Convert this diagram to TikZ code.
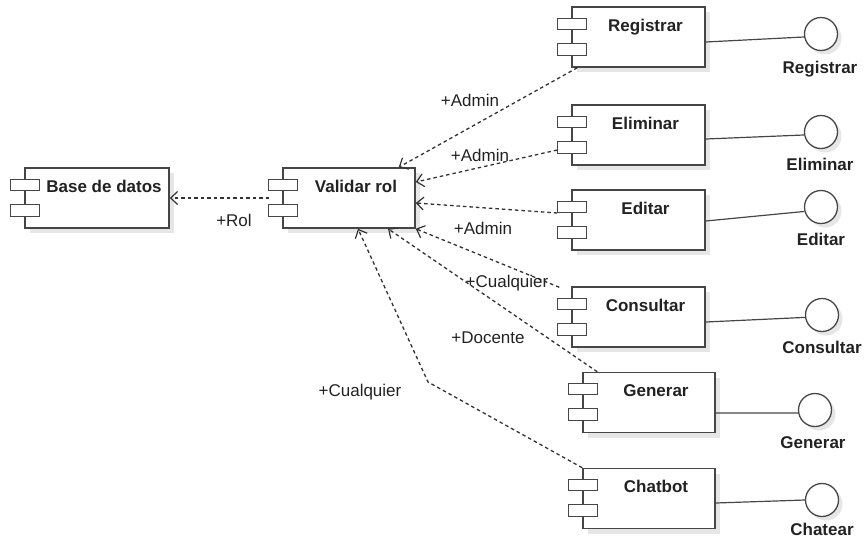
\documentclass[tikz,border=0pt]{standalone}
\usepackage{fontspec}
\setmainfont{Liberation Sans}
\usetikzlibrary{arrows.meta,shadows}
\definecolor{ink}{RGB}{34,34,34}
\definecolor{edge}{RGB}{70,70,70}
\definecolor{dash}{RGB}{50,50,50}
\definecolor{shade}{RGB}{230,230,230}

% UML component: name, centre x, centre y, width, caption
\newcommand\umlcomponent[5]{%
  \node[compbox, minimum width=#4pt] (#1) at (#2,#3) {};
  \draw[comppart] ([xshift=-14pt,yshift=-12pt]#1.north west) rectangle ++(29,11);
  \draw[comppart] ([xshift=-14pt,yshift=-37pt]#1.north west) rectangle ++(29,12);
  \node[comptext] (#1-t) at ([xshift=7pt,yshift=-25pt]#1.north) {#5};
}
% provided interface: name, centre, label x, label baseline y, caption
\newcommand\umliface[5]{%
  \node[iface] (#1) at (#2) {};
  \node[ifacetext] (#1-t) at (#3,#4) {#5};
}

\begin{document}
\begin{tikzpicture}[x=1pt,y=-1pt,
  compbox/.style={draw=edge, line width=1.5pt, fill=white, rectangle,
    minimum height=60pt, inner sep=0pt,
    drop shadow={shadow xshift=5pt, shadow yshift=-5pt, fill=shade, opacity=1}},
  comppart/.style={draw=edge, line width=1.4pt, fill=white},
  comptext/.style={anchor=base, text=ink, font=\fontsize{17}{20}\selectfont\bfseries, inner sep=0pt},
  iface/.style={draw=edge, line width=1.3pt, fill=white, circle, minimum size=33pt, inner sep=0pt,
    drop shadow={shadow xshift=4pt, shadow yshift=-4pt, fill=shade, opacity=1}},
  ifacetext/.style={anchor=base, text=ink, font=\fontsize{17}{20}\selectfont\bfseries, inner sep=0pt},
  wire/.style={draw=edge, line width=1.2pt},
  dep/.style={draw=dash, line width=1.3pt, dash pattern=on 3.5pt off 3pt,
    -{Straight Barb[length=7pt,width=13pt,line width=1.2pt]}},
  role/.style={text=ink, font=\fontsize{17}{20}\selectfont, inner sep=0pt}
]
\useasboundingbox (0,0) rectangle (865,539);

% components
\umlcomponent{bdd}{97}{198}{144}{Base de datos}
\umlcomponent{val}{349}{198}{132}{Validar rol}
\umlcomponent{reg}{638.5}{37}{133}{Registrar}
\umlcomponent{eli}{638.5}{135}{133}{Eliminar}
\umlcomponent{edi}{638.5}{220}{133}{Editar}
\umlcomponent{con}{638.5}{317}{133}{Consultar}
\umlcomponent{gen}{649}{402.5}{132}{Generar}
\umlcomponent{cha}{649}{498.5}{132}{Chatbot}

% provided interfaces
\umliface{ireg}{821,34}{820}{73}{Registrar}
\umliface{ieli}{821,132}{820}{170}{Eliminar}
\umliface{iedi}{821,207}{821}{245}{Editar}
\umliface{icon}{822,315}{822}{353}{Consultar}
\umliface{igen}{815,410}{813}{448}{Generar}
\umliface{icha}{822,500}{822}{535}{Chatear}

% interface links
\draw[wire] ([yshift=-5pt]reg.east) -- (ireg.190);
\draw[wire] ([yshift=-4pt]eli.east) -- (ieli.190);
\draw[wire] ([yshift=-1pt]edi.east) -- (iedi.195);
\draw[wire] ([yshift=-5pt]con.east) -- (icon.188);
\draw[wire] ([yshift=-10.5pt]gen.east) -- (igen.190);
\draw[wire] ([yshift=-4.5pt]cha.east) -- (icha.west);

% dependencies on role validation
\coordinate (bend) at (428,382);
\draw[dep] ([xshift=6pt]reg.south west) -- ([xshift=-17pt]val.north east);
\draw[dep] ([xshift=-14pt,yshift=-15pt]eli.west) -- ([yshift=16pt]val.east);
\draw[dep] ([xshift=-14pt,yshift=7pt]edi.west) -- ([yshift=-5pt]val.east);
\draw[dep] ([xshift=-12pt,yshift=-1pt]con.north west) -- (val.south east);
\draw[dep] ([xshift=15pt]gen.north west) -- ([xshift=39pt]val.south);
\draw[dep] (cha.north west) -- (bend) -- ([xshift=9pt]val.south);
\draw[dep] ([xshift=-13pt]val.west) -- (bdd.east);

% role labels
\node[role] (r1) at (470,100) {+Admin};
\node[role] (r2) at (480,155) {+Admin};
\node[role] (r3) at (483,228) {+Admin};
\node[role] (r4) at (507,283) {+Cualquier};
\node[role] (r5) at (488,338) {+Docente};
\node[role] (r6) at (360,392) {+Cualquier};
\node[role] (r7) at (234,220) {+Rol};
\end{tikzpicture}
\end{document}
